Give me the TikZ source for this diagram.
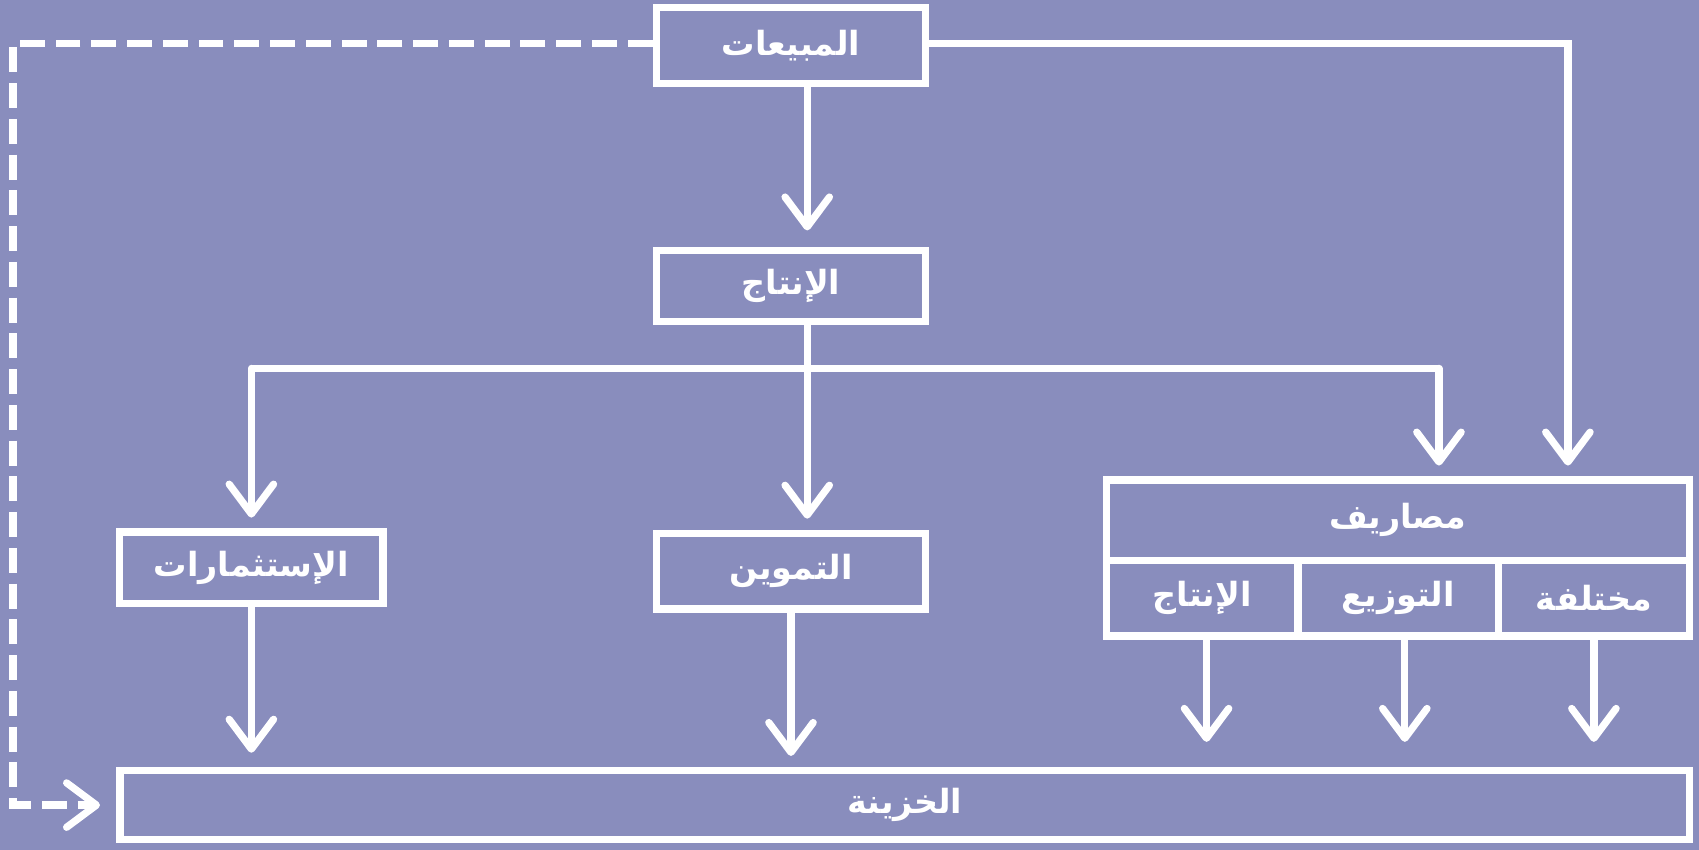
\documentclass[tikz,border=0pt]{standalone}
\usepackage{fontspec}
\newfontfamily\arfont[Script=Arabic]{DejaVu Sans}
\TeXXeTstate=1
\usetikzlibrary{arrows.meta}
\definecolor{bgcol}{RGB}{137,141,189}

\tikzset{
  blok/.style={draw=white, line width=3.8pt, inner sep=0pt, text=white,
    font=\arfont\bfseries\fontsize{17.5}{20}\selectfont},
  flow/.style={draw=white, line width=3.8pt, line cap=round,
    -{Straight Barb[length=0.55cm, width=0.82cm, round]}},
  dashflow/.style={flow, line cap=butt, dash pattern=on 0.46cm off 0.2cm}
}

\begin{document}
\begin{tikzpicture}[x=0.02cm, y=-0.02cm]
\fill[bgcol] (0,0) rectangle (1568,784);
\useasboundingbox (0,0) rectangle (1568,784);

% boxes
\node[blok, minimum width=4.98cm, minimum height=1.4cm] (sales) at (730,42) {\beginR المبيعات\endR};
\node[blok, minimum width=4.98cm, minimum height=1.32cm] (prod) at (730,264) {\beginR الإنتاج\endR};
\node[blok, minimum width=4.86cm, minimum height=1.32cm] (invest) at (232,524) {\beginR الإستثمارات\endR};
\node[blok, minimum width=4.98cm, minimum height=1.4cm] (supply) at (730,527) {\beginR التموين\endR};

\node[blok, minimum width=10.76cm, minimum height=1.48cm] (costs) at (1290,480) {\beginR مصاريف\endR};
\node[blok, minimum width=3.54cm, minimum height=1.4cm] (cprod) at (1109.5,552) {\beginR الإنتاج\endR};
\node[blok, minimum width=3.7cm, minimum height=1.4cm] (cdist) at (1290.5,552) {\beginR التوزيع\endR};
\node[blok, minimum width=3.52cm, minimum height=1.4cm] (cmisc) at (1471,552) {\beginR مختلفة\endR};

\node[blok, minimum width=28.98cm, minimum height=1.28cm] (cash) at (835,743) {\beginR الخزينة\endR};

\coordinate (split) at (745,340);
\coordinate (costin) at (1328,340);
\coordinate (salesturn) at (1447,40);
\coordinate (dashturn) at (12,40);

% connectors
\draw[flow, shorten >=0.3cm] ([xshift=0.3cm]sales.south) -- ([xshift=0.3cm]prod.north);
\draw[flow, shorten >=0.2cm] ([xshift=0.3cm]prod.south) -- ([xshift=0.3cm]supply.north);
\draw[draw=white, line width=3.8pt] (invest.north |- split) -- (costin);
\draw[flow, shorten >=0.2cm] (invest.north |- split) -- (invest.north);
\draw[flow, shorten >=0.2cm] (costin) -- (costin |- costs.north);
\draw[flow, shorten >=0.2cm] (sales.east |- salesturn) -- (salesturn) -- (salesturn |- costs.north);

\draw[flow, shorten >=0.26cm] (invest.south) -- (invest.south |- cash.north);
\draw[flow, shorten >=0.2cm] (supply.south) -- (supply.south |- cash.north);
\draw[flow, shorten >=0.46cm] ([xshift=0.08cm]cprod.south) -- ([xshift=0.08cm]cprod.south |- cash.north);
\draw[flow, shorten >=0.46cm] ([xshift=0.12cm]cdist.south) -- ([xshift=0.12cm]cdist.south |- cash.north);
\draw[flow, shorten >=0.46cm] (cmisc.south) -- (cmisc.south |- cash.north);

\draw[dashflow, shorten >=0.3cm] (sales.west |- dashturn) -- (dashturn) |- (cash.west);
\end{tikzpicture}
\end{document}
